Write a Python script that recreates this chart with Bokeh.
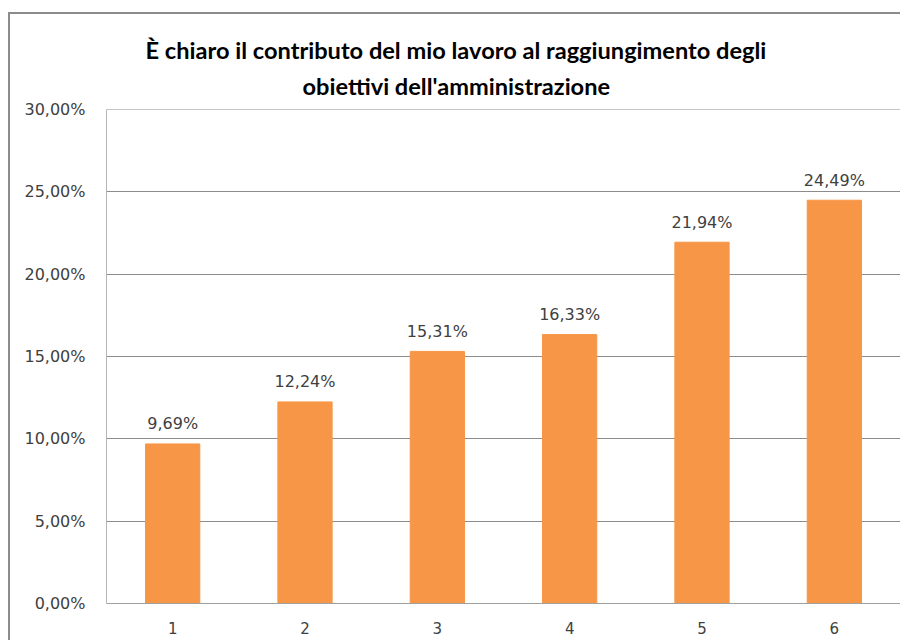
from bokeh.plotting import figure
from bokeh.models import FactorRange, Range1d, FixedTicker, Title, ColumnDataSource, Span
from bokeh.core.properties import value
from bokeh.embed import file_html
from bokeh.resources import INLINE

title_lines = ["È chiaro il contributo del mio lavoro al raggiungimento degli",
               "obiettivi dell'amministrazione"]
categories = ["1", "2", "3", "4", "5", "6"]
values = [9.69, 12.24, 15.31, 16.33, 21.94, 24.49]
y_ticks = [0, 5, 10, 15, 20, 25, 30]
y_tick_labels = ["0,00%", "5,00%", "10,00%", "15,00%", "20,00%", "25,00%", "30,00%"]

bar_labels = [f"{v:.2f}".replace(".", ",") + "%" for v in values]
source = ColumnDataSource(dict(x=categories, top=values, label=bar_labels))

p = figure(x_range=FactorRange(*categories, range_padding=0),
           y_range=Range1d(0, 30),
           width=892, height=628, output_backend="svg", toolbar_location=None,
           min_border_left=96, min_border_right=2, min_border_top=95, min_border_bottom=39)
p.styles = {"border-left": "2px solid #8c8c8c", "border-top": "2px solid #8c8c8c",
            "margin-top": "12px", "margin-left": "8px"}

p.vbar(x="x", top="top", width=0.41, source=source, color="#F79646")
p.text(x="x", y="top", text="label", source=source, text_align="center",
       text_baseline="alphabetic", y_offset=-20, text_font_size="16px",
       text_font=value("DejaVu Sans"), text_color="#404040")

p.outline_line_color = None
p.background_fill_color = "white"
p.border_fill_color = "white"
p.xgrid.grid_line_color = None
p.ygrid.grid_line_color = "#8c8c8c"
p.ygrid.grid_line_width = 1
p.add_layout(Span(location=y_ticks[-1], dimension="width", line_color="#8c8c8c", line_width=1))

p.yaxis.ticker = FixedTicker(ticks=y_ticks)
p.yaxis.major_label_overrides = {t: l for t, l in zip(y_ticks, y_tick_labels)}
p.yaxis.major_tick_line_color = None
p.yaxis.minor_tick_line_color = None
p.yaxis.axis_line_color = "#b4b4b4"
p.yaxis.major_label_standoff = 15
p.yaxis.major_label_text_font = "DejaVu Sans"
p.yaxis.major_label_text_font_size = "16px"
p.yaxis.major_label_text_color = "#404040"

p.xaxis.major_tick_line_color = None
p.xaxis.axis_line_color = "#a0a0a0"
p.xaxis.major_label_standoff = 12
p.xaxis.major_label_text_font = "DejaVu Sans"
p.xaxis.major_label_text_font_size = "15px"
p.xaxis.major_label_text_color = "#404040"

# two-line title, left-aligned with offsets so it sits centred on the whole chart
p.title.text = title_lines[0]
p.title.align = "left"
p.title.offset = 39
p.title.text_font = "Lato"
p.title.text_font_style = "bold"
p.title.text_font_size = "23.6px"
p.title.text_color = "#000000"
p.title.standoff = -7
p.add_layout(Title(text=title_lines[1], offset=196, align="left", text_font="Lato",
                   text_font_style="bold", text_font_size="23.6px",
                   text_color="#000000", standoff=19), "above")

open("out.html", "w").write(file_html(p, INLINE))
